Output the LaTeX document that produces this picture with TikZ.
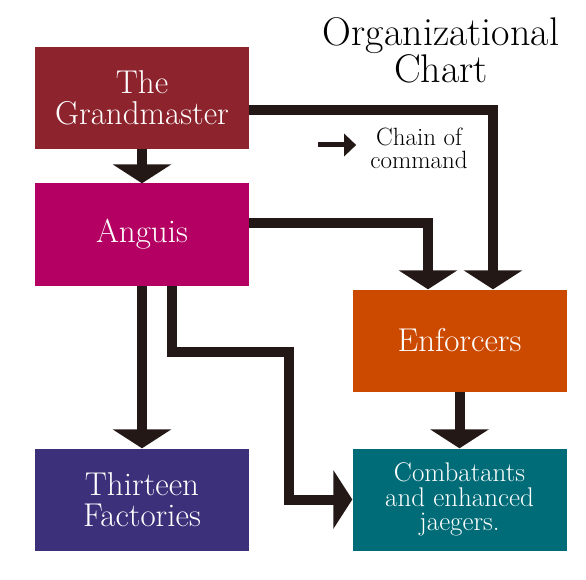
\documentclass[tikz,border=0pt]{standalone}
\usepackage{tikz}
\usetikzlibrary{arrows.meta}

\definecolor{grandred}{RGB}{141,36,45}
\definecolor{anguispink}{RGB}{180,0,98}
\definecolor{enforcerorange}{RGB}{204,74,0}
\definecolor{factoryblue}{RGB}{60,48,122}
\definecolor{combatteal}{RGB}{0,108,120}
\definecolor{arrowblack}{RGB}{35,24,21}

\begin{document}
\begin{tikzpicture}[x=1pt, y=-1pt,
    box/.style={minimum width=214pt, minimum height=102pt, inner sep=0pt, text=white, align=center, font=\fontsize{33}{31}\selectfont},
    conn/.style={line width=10pt, draw=arrowblack, -{Triangle[width=58pt,length=19pt]}},
    legarrow/.style={line width=5pt, draw=arrowblack, -{Triangle[width=22pt,length=12pt]}}]
        \useasboundingbox (0,0) rectangle (586,580);

        \node[box, fill=grandred]       (grand) at (142,98)      {The\\Grandmaster};
        \node[box, fill=anguispink]     (ang)   at (142,234.5)   {Anguis};
        \node[box, fill=enforcerorange] (enf)   at (459.5,340.5) {Enforcers};
        \node[box, fill=factoryblue]    (fac)   at (142,499.5)   {Thirteen\\Factories};
        \node[box, fill=combatteal, font=\fontsize{27}{24.5}\selectfont] (comb) at (459.5,499.5) {Combatants\\and enhanced\\jaegers.};

        \node[font=\fontsize{40}{36}\selectfont, align=center] (title) at (441,50) {Organizational\\Chart};
        \node[font=\fontsize{25}{23}\selectfont, align=center, inner sep=0pt] (chain) at (419,148) {Chain of\\command};

        \coordinate (legstart) at (318,145);
        \coordinate (bend)     at (289,352);

        \draw [legarrow, shorten >=14pt] (legstart) -- (legstart -| chain.west);

        \draw [conn] (grand) -- (ang);
        \draw [conn] ([yshift=-12pt]grand.east) -| ([xshift=33.5pt]enf.north);
        \draw [conn] ([yshift=11.5pt]ang.east) -| ([xshift=-31.5pt]enf.north);
        \draw [conn] (ang) -- (fac);
        \draw [conn] ([xshift=30pt]ang.south) |- (bend) |- (comb.west);
        \draw [conn] (enf) -- (comb);
    \end{tikzpicture}
\end{document}
